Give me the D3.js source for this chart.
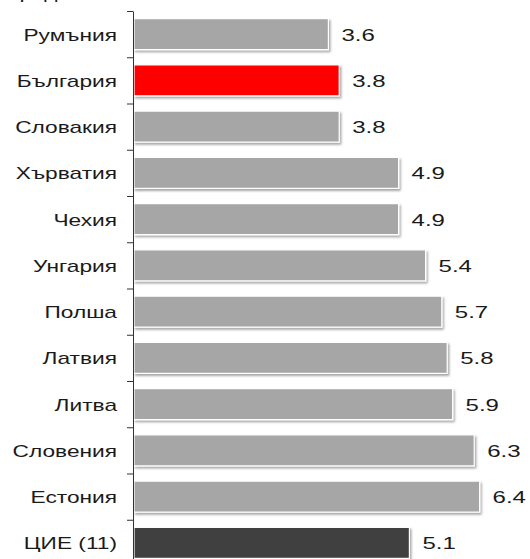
<!DOCTYPE html>
<html>
<head>
<meta charset="utf-8">
<script src="https://cdn.jsdelivr.net/npm/d3@7"></script>
<style>
  body { margin: 0; background: #fff; }
  svg { display: block; }
  text { font-family: "Liberation Sans", Arial, sans-serif; fill: #1a1a1a; }
</style>
</head>
<body>
<svg id="chart"></svg>
<script>
// data
let countries = ['Румъния', 'България', 'Словакия', 'Хърватия', 'Чехия', 'Унгария', 'Полша', 'Латвия', 'Литва', 'Словения', 'Естония', 'ЦИЕ (11)'];
let values = [3.6, 3.8, 3.8, 4.9, 4.9, 5.4, 5.7, 5.8, 5.9, 6.3, 6.4, 5.1];
let valueLabels = ['3.6', '3.8', '3.8', '4.9', '4.9', '5.4', '5.7', '5.8', '5.9', '6.3', '6.4', '5.1'];
let barColors = {'България': '#ff0000', 'ЦИЕ (11)': '#404040'};
let titleText = 'Среден';

let w = 530;
let h = 559;
let axisX = 133;
let topY = 11;
let step = 46.25;
// text in the picture is stretched sideways
let catStretch = 1.42;
let valStretch = 1.5;

let svg = d3.select('#chart').attr('width', w).attr('height', h);

let defs = svg.append('defs');
let shadow = defs.append('filter').attr('id', 'shadow')
  .attr('x', '-5%').attr('y', '-20%').attr('width', '115%').attr('height', '160%');
shadow.append('feDropShadow')
  .attr('dx', 1.5).attr('dy', 2).attr('stdDeviation', 1)
  .attr('flood-color', '#000').attr('flood-opacity', 0.35);

let xScale = d3.scaleLinear().domain([0, 7]).range([134, 512]);

let yScale = d3.scaleBand()
  .domain(countries)
  .range([topY, topY + step * countries.length])
  .paddingInner(0.33)
  .paddingOuter(0.165);

// title, mostly cut off at the top edge
svg.append('text')
  .attr('transform', 'translate(3,-1) scale(' + catStretch + ',1)')
  .attr('font-size', 16)
  .text(titleText);

// bars
svg.selectAll('rect.bar')
  .data(countries)
  .enter()
  .append('rect')
  .attr('class', 'bar')
  .attr('x', xScale(0))
  .attr('y', d => yScale(d))
  .attr('width', (d, i) => xScale(values[i]) - xScale(0))
  .attr('height', yScale.bandwidth())
  .attr('fill', d => barColors[d] || '#a6a6a6')
  .attr('stroke', '#fff')
  .attr('stroke-width', 1.2)
  .attr('filter', 'url(#shadow)');

// value labels
svg.selectAll('text.val')
  .data(countries)
  .enter()
  .append('text')
  .attr('class', 'val')
  .attr('font-size', 16)
  .attr('transform', (d, i) => 'translate(' + (xScale(values[i]) + 13) + ',' + (yScale(d) + yScale.bandwidth() / 2 + 6.5) + ') scale(' + valStretch + ',1)')
  .text((d, i) => valueLabels[i]);

// axis with ticks at band edges
let edgeScale = d3.scaleLinear().domain([0, countries.length]).range(yScale.range());
let yAxis = d3.axisLeft(edgeScale)
  .tickValues(d3.range(0, countries.length + 1))
  .tickFormat('')
  .tickSize(6)
  .tickSizeOuter(0);

let axisG = svg.append('g')
  .attr('transform', 'translate(' + axisX + ',0)')
  .call(yAxis);
axisG.selectAll('path, line').attr('stroke', '#333').attr('stroke-width', 1);

// category labels
svg.selectAll('text.cat')
  .data(countries)
  .enter()
  .append('text')
  .attr('class', 'cat')
  .attr('font-size', 16)
  .attr('text-anchor', 'end')
  .attr('transform', d => 'translate(' + (axisX - 16) + ',' + (yScale(d) + yScale.bandwidth() / 2 + 6.5) + ') scale(' + catStretch + ',1)')
  .text(d => d);
</script>
</body>
</html>
